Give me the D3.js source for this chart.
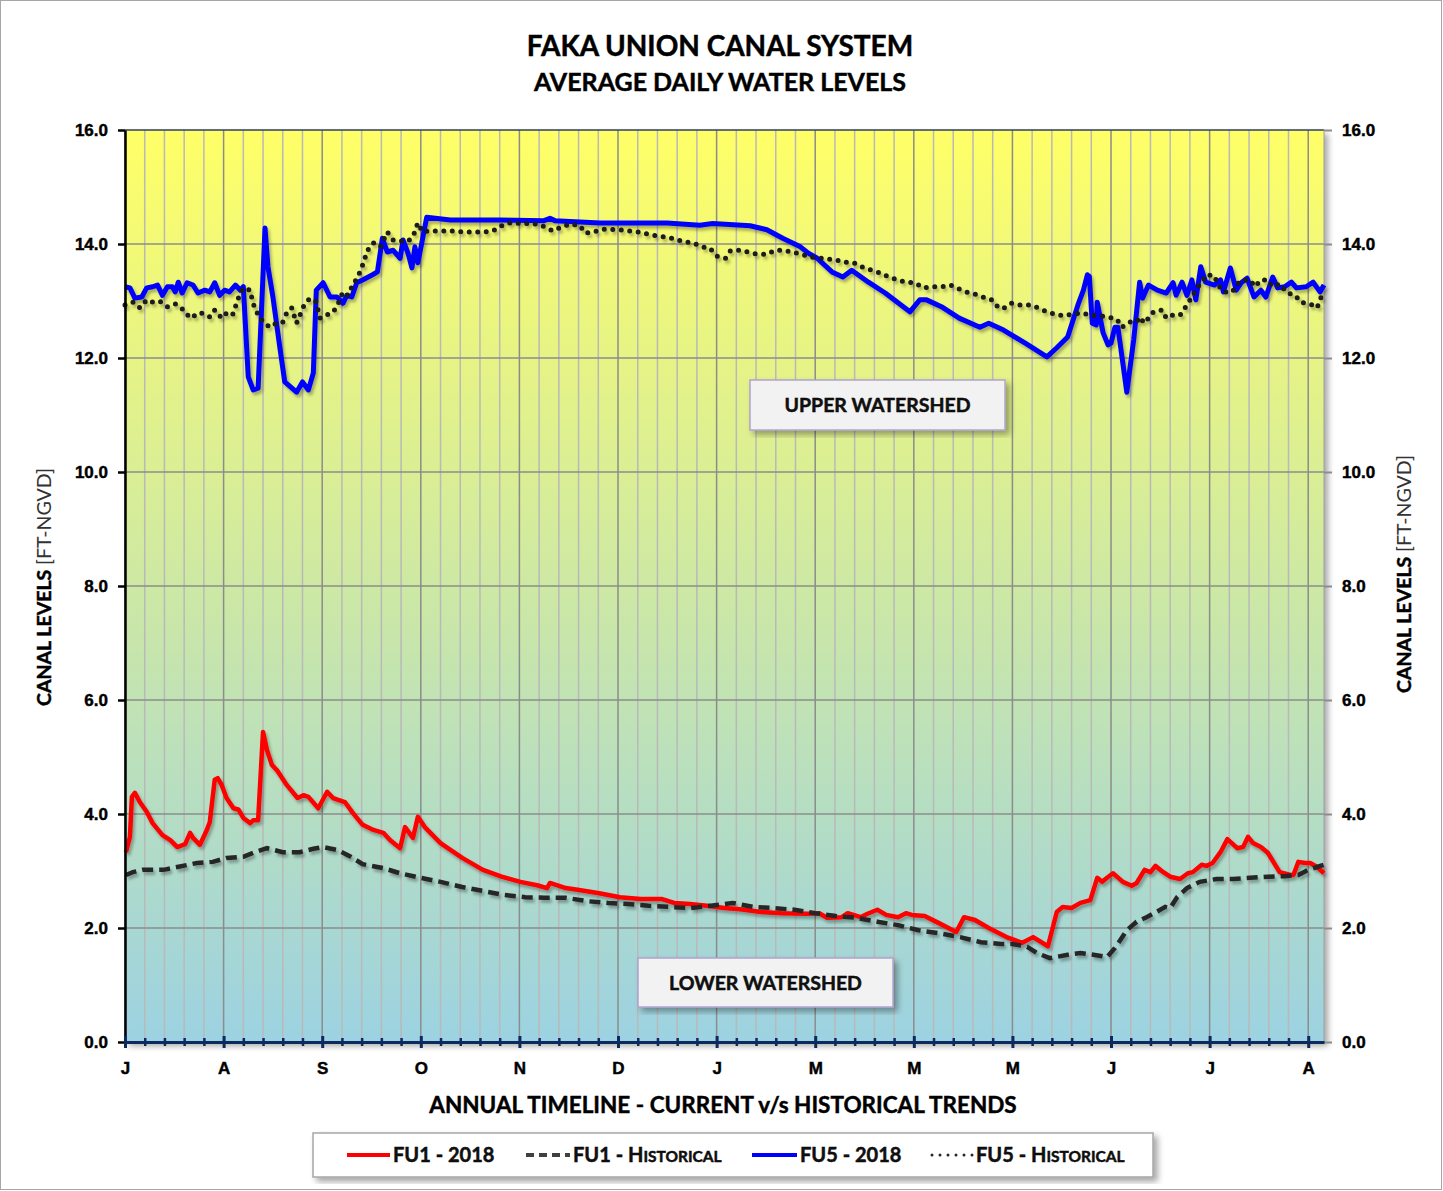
<!DOCTYPE html>
<html>
<head>
<meta charset="utf-8">
<script src="https://cdn.jsdelivr.net/npm/d3@7"></script>
<style>
  body { margin: 0; background: #fff; }
  svg { display: block; font-family: Lato, "Open Sans", sans-serif; }
  .heavy { stroke: currentColor; stroke-width: 0.45px; }
</style>
</head>
<body>
<div id="chart"></div>
<script>
// axis labels (one letter per month, as on the original chart)
const monthLabels = ["J", "A", "S", "O", "N", "D", "J", "M", "M", "M", "J", "J", "A"];
const levelTicks = [0, 2, 4, 6, 8, 10, 12, 14, 16];

// [month offset, canal level ft-NGVD]
const fu5_2018 = [
  [0.00, 13.25], [0.05, 13.23], [0.10, 13.05], [0.17, 13.07], [0.22, 13.23], [0.28, 13.25],
  [0.33, 13.28], [0.38, 13.10], [0.43, 13.25], [0.48, 13.25], [0.51, 13.16], [0.54, 13.33],
  [0.58, 13.14], [0.63, 13.32], [0.69, 13.28], [0.74, 13.14], [0.81, 13.19], [0.86, 13.16],
  [0.91, 13.32], [0.96, 13.10], [1.01, 13.19], [1.06, 13.16], [1.12, 13.28], [1.17, 13.19],
  [1.20, 13.25], [1.25, 11.67], [1.30, 11.44], [1.35, 11.47], [1.42, 14.28], [1.45, 13.60],
  [1.50, 13.07], [1.57, 12.19], [1.62, 11.58], [1.74, 11.40], [1.80, 11.58], [1.86, 11.44],
  [1.91, 11.74], [1.94, 13.19], [2.01, 13.32], [2.08, 13.07], [2.15, 13.07], [2.21, 12.96],
  [2.25, 13.10], [2.30, 13.07], [2.35, 13.32], [2.41, 13.37], [2.51, 13.46], [2.56, 13.51],
  [2.61, 14.10], [2.66, 13.86], [2.72, 13.89], [2.79, 13.75], [2.82, 14.07], [2.87, 13.84],
  [2.91, 13.58], [2.94, 13.95], [2.97, 13.67], [3.01, 14.02], [3.06, 14.47], [3.30, 14.42],
  [3.80, 14.42], [4.25, 14.41], [4.31, 14.45], [4.36, 14.41], [4.82, 14.37], [5.50, 14.37],
  [5.83, 14.33], [5.96, 14.36], [6.34, 14.32], [6.51, 14.25], [6.67, 14.10], [6.85, 13.95],
  [6.93, 13.84], [7.02, 13.75], [7.17, 13.51], [7.28, 13.42], [7.37, 13.54], [7.54, 13.33],
  [7.71, 13.14], [7.96, 12.81], [8.06, 13.02], [8.13, 13.02], [8.28, 12.90], [8.46, 12.70],
  [8.67, 12.54], [8.76, 12.61], [8.91, 12.49], [9.13, 12.26], [9.35, 12.02], [9.45, 12.18],
  [9.56, 12.37], [9.67, 12.96], [9.72, 13.19], [9.76, 13.46], [9.78, 13.43], [9.81, 12.61],
  [9.85, 12.58], [9.86, 12.98], [9.92, 12.44], [9.97, 12.23], [10.00, 12.26], [10.04, 12.54],
  [10.07, 12.54], [10.16, 11.40], [10.23, 12.32], [10.29, 13.33], [10.32, 13.05], [10.38, 13.28],
  [10.47, 13.19], [10.56, 13.14], [10.63, 13.32], [10.66, 13.10], [10.72, 13.33], [10.77, 13.10],
  [10.82, 13.37], [10.86, 13.02], [10.91, 13.60], [10.96, 13.33], [11.05, 13.28], [11.11, 13.37],
  [11.14, 13.16], [11.21, 13.58], [11.27, 13.19], [11.32, 13.32], [11.38, 13.40], [11.45, 13.07],
  [11.52, 13.19], [11.57, 13.07], [11.64, 13.42], [11.69, 13.23], [11.76, 13.25], [11.83, 13.33],
  [11.88, 13.23], [11.98, 13.25], [12.05, 13.33], [12.12, 13.16], [12.16, 13.28]
];

const fu5_hist = [
  [0.00, 12.93], [0.08, 12.98], [0.15, 12.88], [0.22, 13.02], [0.28, 12.98], [0.35, 13.00],
  [0.43, 12.90], [0.51, 12.95], [0.59, 12.85], [0.66, 12.70], [0.76, 12.80], [0.86, 12.72],
  [0.91, 12.84], [0.98, 12.70], [1.03, 12.79], [1.09, 12.75], [1.12, 12.90], [1.15, 13.05],
  [1.20, 13.23], [1.27, 13.19], [1.29, 13.02], [1.32, 12.85], [1.40, 12.63], [1.47, 12.54],
  [1.55, 12.63], [1.60, 12.63], [1.64, 12.79], [1.69, 12.88], [1.74, 12.61], [1.81, 12.90],
  [1.86, 13.02], [1.93, 13.02], [1.98, 12.70], [2.03, 12.75], [2.10, 12.79], [2.15, 12.90],
  [2.21, 13.16], [2.26, 13.10], [2.31, 13.28], [2.36, 13.42], [2.40, 13.58], [2.46, 13.89],
  [2.52, 14.02], [2.59, 13.95], [2.66, 14.21], [2.72, 14.07], [2.86, 14.04], [2.92, 14.12],
  [2.97, 14.37], [3.02, 14.21], [3.09, 14.23], [3.28, 14.23], [3.47, 14.21], [3.65, 14.21],
  [3.73, 14.23], [3.82, 14.32], [3.90, 14.37], [4.08, 14.36], [4.19, 14.35], [4.28, 14.28],
  [4.34, 14.23], [4.43, 14.30], [4.51, 14.35], [4.61, 14.33], [4.67, 14.19], [4.75, 14.21],
  [4.84, 14.26], [5.02, 14.25], [5.20, 14.21], [5.29, 14.18], [5.40, 14.14], [5.48, 14.12],
  [5.58, 14.09], [5.66, 14.04], [5.76, 14.02], [5.85, 13.95], [5.93, 13.93], [6.00, 13.79],
  [6.09, 13.75], [6.14, 13.88], [6.24, 13.89], [6.41, 13.82], [6.51, 13.82], [6.59, 13.89],
  [6.67, 13.89], [6.76, 13.86], [6.86, 13.82], [6.95, 13.77], [7.12, 13.74], [7.21, 13.72],
  [7.30, 13.68], [7.39, 13.67], [7.47, 13.60], [7.57, 13.54], [7.66, 13.49], [7.75, 13.42],
  [7.84, 13.37], [7.92, 13.33], [8.01, 13.32], [8.10, 13.23], [8.19, 13.25], [8.28, 13.25],
  [8.37, 13.28], [8.46, 13.21], [8.53, 13.16], [8.62, 13.12], [8.70, 13.07], [8.79, 13.02],
  [8.85, 12.90], [8.90, 12.86], [8.99, 12.96], [9.08, 12.93], [9.17, 12.93], [9.26, 12.88],
  [9.35, 12.81], [9.43, 12.77], [9.52, 12.74], [9.61, 12.77], [9.71, 12.79], [9.79, 12.75],
  [9.88, 12.74], [9.97, 12.72], [10.06, 12.68], [10.11, 12.54], [10.19, 12.63], [10.26, 12.63],
  [10.29, 12.72], [10.34, 12.61], [10.43, 12.81], [10.52, 12.84], [10.56, 12.70], [10.62, 12.75],
  [10.70, 12.75], [10.77, 12.93], [10.82, 13.07], [10.87, 13.23], [10.92, 13.33], [10.97, 13.46],
  [11.05, 13.44], [11.08, 13.30], [11.14, 13.16], [11.23, 13.16], [11.28, 13.30], [11.34, 13.37],
  [11.41, 13.37], [11.46, 13.25], [11.52, 13.37], [11.59, 13.37], [11.64, 13.25], [11.71, 13.30],
  [11.79, 13.14], [11.87, 13.10], [11.92, 12.98], [11.99, 12.96], [12.04, 12.93], [12.09, 12.88],
  [12.12, 13.02], [12.16, 13.19]
];

const fu1_2018 = [
  [0.01, 3.33], [0.05, 3.60], [0.07, 4.30], [0.10, 4.37], [0.15, 4.21], [0.22, 4.04],
  [0.28, 3.84], [0.38, 3.63], [0.46, 3.54], [0.53, 3.42], [0.61, 3.47], [0.66, 3.67],
  [0.69, 3.58], [0.76, 3.46], [0.83, 3.72], [0.86, 3.86], [0.91, 4.60], [0.94, 4.63],
  [0.98, 4.51], [1.03, 4.28], [1.10, 4.10], [1.15, 4.08], [1.20, 3.93], [1.27, 3.84],
  [1.30, 3.89], [1.35, 3.89], [1.40, 5.44], [1.44, 5.12], [1.49, 4.86], [1.54, 4.77],
  [1.64, 4.51], [1.75, 4.28], [1.81, 4.33], [1.86, 4.30], [1.96, 4.10], [2.05, 4.39],
  [2.11, 4.28], [2.23, 4.21], [2.31, 4.02], [2.41, 3.81], [2.52, 3.72], [2.62, 3.67],
  [2.69, 3.54], [2.79, 3.40], [2.84, 3.77], [2.92, 3.58], [2.97, 3.95], [3.04, 3.77],
  [3.20, 3.49], [3.42, 3.23], [3.63, 3.02], [3.82, 2.90], [4.01, 2.81], [4.18, 2.75],
  [4.28, 2.70], [4.31, 2.79], [4.47, 2.70], [4.59, 2.67], [4.81, 2.61], [5.02, 2.54],
  [5.23, 2.51], [5.44, 2.51], [5.57, 2.44], [5.73, 2.42], [5.90, 2.39], [6.08, 2.35],
  [6.24, 2.33], [6.45, 2.28], [6.66, 2.26], [6.92, 2.25], [7.04, 2.26], [7.12, 2.18],
  [7.27, 2.19], [7.33, 2.26], [7.46, 2.19], [7.53, 2.25], [7.63, 2.32], [7.72, 2.23],
  [7.84, 2.19], [7.92, 2.26], [7.98, 2.23], [8.11, 2.21], [8.25, 2.09], [8.43, 1.93],
  [8.51, 2.19], [8.62, 2.14], [8.76, 2.00], [8.94, 1.84], [9.10, 1.74], [9.21, 1.84],
  [9.36, 1.68], [9.45, 2.28], [9.51, 2.37], [9.60, 2.35], [9.69, 2.44], [9.79, 2.49],
  [9.86, 2.88], [9.91, 2.81], [9.96, 2.88], [10.02, 2.96], [10.12, 2.81], [10.21, 2.74],
  [10.26, 2.79], [10.34, 3.02], [10.40, 2.98], [10.45, 3.09], [10.53, 2.98], [10.60, 2.90],
  [10.70, 2.86], [10.78, 2.96], [10.83, 2.98], [10.92, 3.11], [10.97, 3.09], [11.03, 3.14],
  [11.11, 3.33], [11.18, 3.56], [11.28, 3.40], [11.34, 3.42], [11.39, 3.60], [11.44, 3.49],
  [11.52, 3.42], [11.59, 3.32], [11.71, 2.98], [11.82, 2.93], [11.85, 2.93], [11.90, 3.16],
  [11.97, 3.14], [12.02, 3.14], [12.09, 3.07], [12.16, 2.96]
];

const fu1_hist = [
  [0.01, 2.93], [0.08, 2.98], [0.18, 3.02], [0.39, 3.02], [0.53, 3.07], [0.73, 3.14],
  [0.89, 3.16], [1.03, 3.23], [1.20, 3.25], [1.30, 3.32], [1.44, 3.40], [1.60, 3.33],
  [1.77, 3.33], [1.91, 3.39], [2.01, 3.42], [2.15, 3.37], [2.28, 3.26], [2.41, 3.12],
  [2.62, 3.05], [2.79, 2.96], [3.00, 2.88], [3.20, 2.81], [3.42, 2.72], [3.63, 2.65],
  [3.84, 2.58], [4.06, 2.54], [4.26, 2.53], [4.47, 2.53], [4.69, 2.47], [4.90, 2.44],
  [5.10, 2.42], [5.31, 2.39], [5.53, 2.37], [5.73, 2.35], [5.94, 2.39], [6.16, 2.44],
  [6.37, 2.37], [6.57, 2.35], [6.79, 2.32], [7.00, 2.26], [7.21, 2.21], [7.41, 2.18],
  [7.63, 2.11], [7.84, 2.05], [8.05, 1.96], [8.25, 1.91], [8.47, 1.84], [8.68, 1.75],
  [8.89, 1.72], [9.00, 1.72], [9.15, 1.67], [9.25, 1.56], [9.38, 1.47], [9.56, 1.53],
  [9.69, 1.56], [9.82, 1.53], [9.96, 1.49], [10.04, 1.65], [10.16, 1.96], [10.26, 2.11],
  [10.36, 2.19], [10.46, 2.28], [10.55, 2.37], [10.60, 2.35], [10.67, 2.54], [10.77, 2.70],
  [10.90, 2.81], [11.07, 2.86], [11.24, 2.86], [11.41, 2.88], [11.59, 2.90], [11.76, 2.91],
  [11.90, 2.93], [12.00, 3.02], [12.09, 3.07], [12.16, 3.11]
];

const width = 1443, height = 1191;
const margin = { top: 130, right: 119, bottom: 149, left: 125 };
const xEnd = 12.16; // record runs a few days past the last month mark

const svg = d3.select("#chart")
  .append("svg")
  .attr("width", width)
  .attr("height", height);

const defs = svg.append("defs");
const grad = defs.append("linearGradient")
  .attr("id", "bg").attr("x1", 0).attr("y1", 0).attr("x2", 0).attr("y2", 1);
grad.append("stop").attr("offset", "0%").attr("stop-color", "#ffff66");
grad.append("stop").attr("offset", "100%").attr("stop-color", "#9cd2e2");

const shadow = defs.append("filter").attr("id", "shadow")
  .attr("x", "-5%").attr("y", "-5%").attr("width", "115%").attr("height", "120%");
shadow.append("feDropShadow").attr("dx", 4).attr("dy", 4).attr("stdDeviation", 3)
  .attr("flood-color", "#000").attr("flood-opacity", 0.35);

const lineShadow = defs.append("filter").attr("id", "lineShadow")
  .attr("x", "-5%").attr("y", "-20%").attr("width", "110%").attr("height", "140%");
lineShadow.append("feDropShadow").attr("dx", 2).attr("dy", 3).attr("stdDeviation", 1.5)
  .attr("flood-color", "#000").attr("flood-opacity", 0.3);

// outer frame
svg.append("rect")
  .attr("x", 0.5).attr("y", 0.5)
  .attr("width", width - 2).attr("height", height - 2)
  .attr("fill", "#fff").attr("stroke", "#a6a6a6");

const x = d3.scaleLinear().domain([0, xEnd]).range([margin.left, width - margin.right]);
const y = d3.scaleLinear().domain([0, 16]).range([height - margin.bottom, margin.top]);

// plot background
svg.append("rect")
  .attr("x", x(0)).attr("y", y(16))
  .attr("width", x(xEnd) - x(0)).attr("height", y(0) - y(16))
  .attr("fill", "url(#bg)")
  .attr("filter", "url(#shadow)");

// grid
const minorVals = d3.range(0, xEnd, 0.2).filter(d => Math.abs(d - Math.round(d)) > 0.01);
const majorVals = d3.range(0, 13);
const grid = svg.append("g");
grid.selectAll(".minor").data(minorVals).join("line")
  .attr("x1", d => x(d)).attr("x2", d => x(d))
  .attr("y1", y(16)).attr("y2", y(0))
  .attr("stroke", "#b9b9b9").attr("stroke-width", 1.5);
grid.selectAll(".major").data(majorVals).join("line")
  .attr("x1", d => x(d)).attr("x2", d => x(d))
  .attr("y1", y(16)).attr("y2", y(0))
  .attr("stroke", "#8c8c8c").attr("stroke-width", 1.5);
grid.selectAll(".hz").data(levelTicks.filter(d => d > 0 && d < 16)).join("line")
  .attr("x1", x(0)).attr("x2", x(xEnd))
  .attr("y1", d => y(d)).attr("y2", d => y(d))
  .attr("stroke", "#8c8c8c").attr("stroke-width", 1.5);

// plot border top / right
svg.append("line")
  .attr("x1", x(0)).attr("x2", x(xEnd)).attr("y1", y(16)).attr("y2", y(16))
  .attr("stroke", "#2f4060").attr("stroke-width", 1.5);
svg.append("line")
  .attr("x1", x(xEnd)).attr("x2", x(xEnd)).attr("y1", y(16)).attr("y2", y(0))
  .attr("stroke", "#a0a0a0").attr("stroke-width", 1);

// series
const line = d3.line().x(d => x(d[0])).y(d => y(d[1]));
const lines = svg.append("g").attr("filter", "url(#lineShadow)");
lines.append("path").datum(fu1_2018).attr("d", line)
  .attr("fill", "none").attr("stroke", "#ff0000").attr("stroke-width", 4.5)
  .attr("stroke-linejoin", "round");
lines.append("path").datum(fu5_2018).attr("d", line)
  .attr("fill", "none").attr("stroke", "#0000ff").attr("stroke-width", 5)
  .attr("stroke-linejoin", "round");
lines.append("path").datum(fu1_hist).attr("d", line)
  .attr("fill", "none").attr("stroke", "#262626").attr("stroke-width", 4.5)
  .attr("stroke-dasharray", "11,6");
lines.append("path").datum(fu5_hist).attr("d", line)
  .attr("fill", "none").attr("stroke", "#1a1a1a").attr("stroke-width", 5)
  .attr("stroke-linecap", "round").attr("stroke-dasharray", "0,8.5");

// left axis
const yLeft = svg.append("g")
  .attr("transform", `translate(${x(0)},0)`)
  .call(d3.axisLeft(y).tickValues(levelTicks).tickFormat(d3.format(".1f")).tickSize(7).tickPadding(10).tickSizeOuter(0));
yLeft.select(".domain").attr("stroke", "#000").attr("stroke-width", 2.5);
yLeft.selectAll(".tick line").attr("stroke", "#000").attr("stroke-width", 2.5);
yLeft.selectAll("text").attr("font-size", 17).attr("font-weight", 700).attr("fill", "#000").attr("class", "heavy");

// right axis
const yRight = svg.append("g")
  .attr("transform", `translate(${x(xEnd)},0)`)
  .call(d3.axisRight(y).tickValues(levelTicks).tickFormat(d3.format(".1f")).tickSize(8).tickPadding(10).tickSizeOuter(0));
yRight.select(".domain").remove();
yRight.selectAll(".tick line").attr("stroke", "#8c8c8c").attr("stroke-width", 2);
yRight.selectAll("text").attr("font-size", 17).attr("font-weight", 700).attr("fill", "#000").attr("class", "heavy");

// bottom axis: minor ticks, then major ticks with month letters
const xMinor = svg.append("g")
  .attr("transform", `translate(0,${y(0)})`)
  .call(d3.axisBottom(x).tickValues(minorVals).tickFormat("").tickSize(4).tickSizeOuter(0));
xMinor.select(".domain").remove();
xMinor.selectAll(".tick line").attr("y1", -4).attr("stroke", "#0b2a5e").attr("stroke-width", 2.5);

const xAxis = svg.append("g")
  .attr("transform", `translate(0,${y(0)})`)
  .call(d3.axisBottom(x).tickValues(majorVals).tickFormat((d, i) => monthLabels[i])
    .tickSize(6).tickPadding(14).tickSizeOuter(0));
xAxis.select(".domain").attr("stroke", "#0b2a5e").attr("stroke-width", 3);
xAxis.selectAll(".tick line").attr("y1", -6).attr("stroke", "#0b2a5e").attr("stroke-width", 3);
xAxis.selectAll("text").attr("font-size", 17).attr("font-weight", 700).attr("fill", "#000").attr("class", "heavy");

// titles
svg.append("text")
  .attr("x", 720).attr("y", 56).attr("class", "heavy")
  .attr("text-anchor", "middle").attr("font-size", 28).attr("font-weight", 700)
  .text("FAKA UNION CANAL SYSTEM");
svg.append("text")
  .attr("x", 720).attr("y", 91).attr("class", "heavy")
  .attr("text-anchor", "middle").attr("font-size", 25).attr("font-weight", 700)
  .text("AVERAGE DAILY WATER LEVELS");
svg.append("text")
  .attr("x", 723).attr("y", 1113).attr("class", "heavy")
  .attr("text-anchor", "middle").attr("font-size", 22.5).attr("font-weight", 700)
  .text("ANNUAL TIMELINE - CURRENT v/s HISTORICAL TRENDS");

function yTitle(cx, cy) {
  const t = svg.append("text")
    .attr("transform", `translate(${cx},${cy}) rotate(-90)`)
    .attr("text-anchor", "middle").attr("font-size", 19.5);
  t.append("tspan").attr("font-weight", 700).attr("class", "heavy").text("CANAL LEVELS ");
  t.append("tspan").attr("font-weight", 400).attr("fill", "#333").text("[FT-NGVD]");
}
yTitle(51, 587);
yTitle(1411, 574);

// watershed callouts
function callout(bx, by, bw, bh, label) {
  svg.append("rect")
    .attr("x", bx).attr("y", by).attr("width", bw).attr("height", bh)
    .attr("fill", "#f2f2f2").attr("stroke", "#b0a3cf").attr("stroke-width", 1.5)
    .attr("filter", "url(#shadow)");
  svg.append("text")
    .attr("x", bx + bw / 2).attr("y", by + bh / 2 + 7).attr("class", "heavy")
    .attr("text-anchor", "middle").attr("font-size", 19.5).attr("font-weight", 700)
    .attr("fill", "#111").text(label);
}
callout(750, 380, 255, 50, "UPPER WATERSHED");
callout(638, 958, 255, 49, "LOWER WATERSHED");

// legend
const legend = svg.append("g");
legend.append("rect")
  .attr("x", 313).attr("y", 1133).attr("width", 840).attr("height", 44)
  .attr("fill", "#fff").attr("stroke", "#a6a6a6").attr("stroke-width", 1.5)
  .attr("filter", "url(#shadow)");
const legendItems = [
  { x0: 347, x1: 390, color: "#ff0000", dash: null, cap: "butt", main: "FU1 - 2018", small: null },
  { x0: 526, x1: 570, color: "#404040", dash: "8,5", cap: "butt", main: "FU1 - H", small: "ISTORICAL" },
  { x0: 752, x1: 797, color: "#0000ff", dash: null, cap: "butt", main: "FU5 - 2018", small: null },
  { x0: 932, x1: 973, color: "#262626", dash: "0,8", cap: "round", main: "FU5 - H", small: "ISTORICAL" }
];
legendItems.forEach(it => {
  legend.append("line")
    .attr("x1", it.x0).attr("x2", it.x1).attr("y1", 1155).attr("y2", 1155)
    .attr("stroke", it.color).attr("stroke-width", it.cap === "round" ? 3 : 4)
    .attr("stroke-linecap", it.cap)
    .attr("stroke-dasharray", it.dash);
  const t = legend.append("text")
    .attr("x", it.x1 + 3).attr("y", 1162).attr("class", "heavy")
    .attr("font-size", 20).attr("font-weight", 700).attr("fill", "#111");
  t.append("tspan").text(it.main);
  if (it.small) t.append("tspan").attr("font-size", 15.5).text(it.small);
});
</script>
</body>
</html>
